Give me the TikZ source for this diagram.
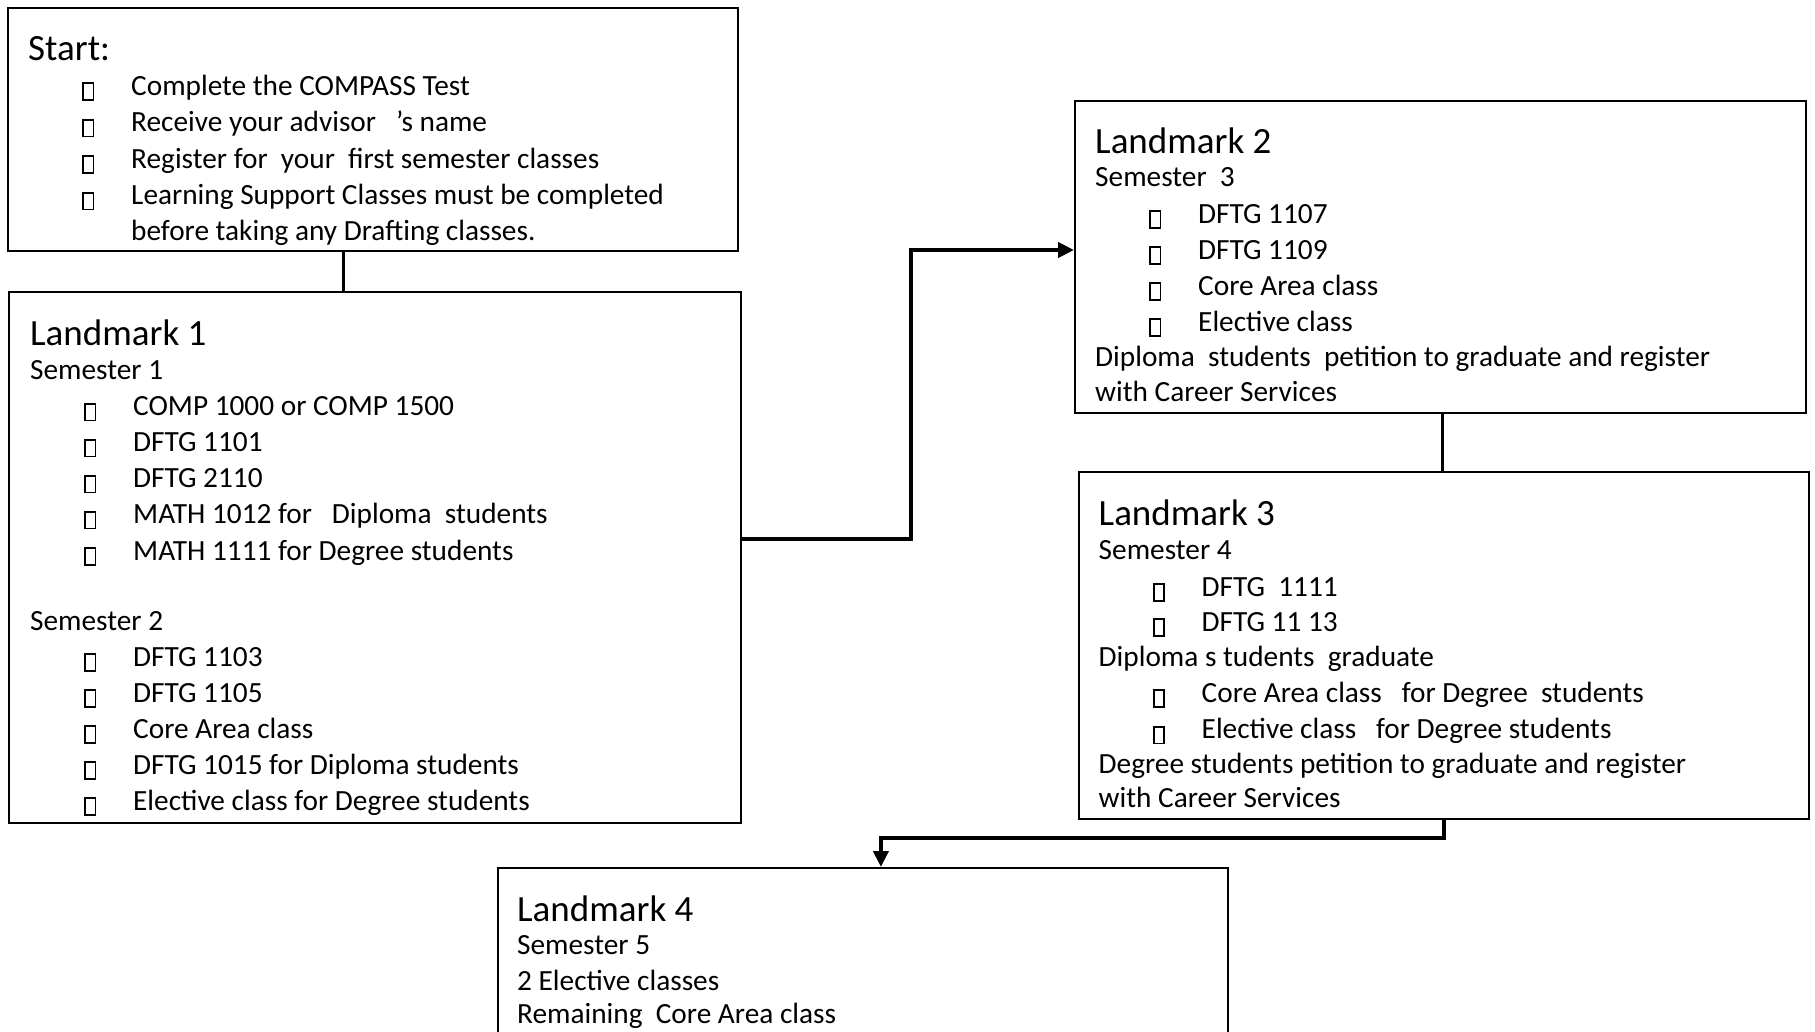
\documentclass[tikz,border=0pt]{standalone}
\usepackage{fontspec}
\setmainfont{Carlito}
\usetikzlibrary{arrows.meta}
\newcommand\bx{\raisebox{-4pt}{\setlength\fboxsep{0pt}\setlength\fboxrule{1.8pt}\fbox{\rule{0pt}{15pt}\rule{8.5pt}{0pt}}}}
\tikzset{
 box/.style={draw, line width=1.8pt, anchor=north west, inner sep=0pt},
 txt/.style={anchor=base west, inner sep=0pt, font=\fontsize{29.3}{35}\selectfont},
 ttl/.style={anchor=base west, inner sep=0pt, font=\fontsize{37}{44}\selectfont},
 link/.style={line width=3pt},
 arrow/.style={line width=4pt, -{Triangle[length=16pt,width=15pt]}},
}
\newcommand\tline[4]{\node[txt] (#1) at (#2,#3) {#4};}
\newcommand\bitem[4]{\node[txt] (#1b) at (#2-49,#3) {\bx}; \node[txt] (#1) at (#2,#3) {#4};}
\begin{document}
\begin{tikzpicture}[x=1pt,y=-1pt]
\useasboundingbox (0,0) rectangle (1815,1031);
\clip (0,0) rectangle (1815,1031);
% boxes
\node[box, minimum width=730pt, minimum height=243pt] (start) at (7,7) {};
\node[box, minimum width=732pt, minimum height=531pt] (l1) at (8,291) {};
\node[box, minimum width=731pt, minimum height=312pt] (l2) at (1074,100) {};
\node[box, minimum width=730pt, minimum height=347pt] (l3) at (1078,471) {};
\node[box, minimum width=730pt, minimum height=200pt] (l4) at (497,867) {};
% start text
\node[ttl] (st) at (28,60) {Start:};
\bitem{s1}{131}{95}{Complete the COMPASS Test}
\bitem{s2}{131}{131.5}{Receive your advisor\ \ \ ’s name}
\bitem{s3}{131}{168}{Register for\ \ your\ \ first semester classes}
\bitem{s4}{131}{204.5}{Learning Support Classes must be completed}
\tline{s5}{131}{240}{before taking any Drafting classes.}
% landmark 1
\node[ttl] (l1t) at (30,345) {Landmark 1};
\tline{l1s}{30}{379}{Semester 1}
\bitem{a1}{133}{415.5}{COMP 1000 or COMP 1500}
\bitem{a2}{133}{451.5}{DFTG 1101}
\bitem{a3}{133}{487.5}{DFTG 2110}
\bitem{a4}{133}{523.5}{MATH 1012 for\ \ \ Diploma\ \ students}
\bitem{a5}{133}{560}{MATH 1111 for Degree students}
\tline{l1s2}{30}{630}{Semester 2}
\bitem{b1}{133}{666}{DFTG 1103}
\bitem{b2}{133}{702}{DFTG 1105}
\bitem{b3}{133}{738}{Core Area class}
\bitem{b4}{133}{774}{DFTG 1015 for Diploma students}
\bitem{b5}{133}{810}{Elective class for Degree students}
% landmark 2
\node[ttl] (l2t) at (1095,153) {Landmark 2};
\tline{l2s}{1095}{186}{Semester\ \ 3}
\bitem{c1}{1198}{223}{DFTG 1107}
\bitem{c2}{1198}{259}{DFTG 1109}
\bitem{c3}{1198}{295}{Core Area class}
\bitem{c4}{1198}{331}{Elective class}
\tline{c5}{1095}{366}{Diploma\ \ students\ \ petition to graduate and register}
\tline{c6}{1095}{401}{with Career Services}
% landmark 3
\node[ttl] (l3t) at (1098.5,525.5) {Landmark 3};
\tline{l3s}{1098.5}{559}{Semester 4}
\bitem{d1}{1201.5}{596}{DFTG\ \ 1111}
\bitem{d2}{1201.5}{631}{DFTG 11 13}
\tline{d3}{1098.5}{666}{Diploma s tudents\ \ graduate}
\bitem{d4}{1201.5}{702}{Core Area class\ \ \ for Degree\ \ students}
\bitem{d5}{1201.5}{738.5}{Elective class\ \ \ for Degree students}
\tline{d6}{1098.5}{773}{Degree students petition to graduate and register}
\tline{d7}{1098.5}{807.5}{with Career Services}
% landmark 4
\node[ttl] (l4t) at (517,921) {Landmark 4};
\tline{e1}{517}{954.5}{Semester 5}
\tline{e2}{517}{990}{2 Elective classes}
\tline{e3}{517}{1023.5}{Remaining\ \ Core Area class}
% connectors
\draw[link] ([xshift=-29pt]start.south) -- ([xshift=-29pt]start.south |- l1.north);
\draw[arrow] ([yshift=-248pt]l1.north east) -| (911,250) -- ([yshift=-150pt]l2.north west);
\draw[link] ([xshift=2.5pt]l2.south) -- ([xshift=2.5pt]l2.south |- l3.north);
\draw[arrow] (l3.south) -- ++(0,18) -| ([xshift=18pt]l4.north);
\end{tikzpicture}
\end{document}
